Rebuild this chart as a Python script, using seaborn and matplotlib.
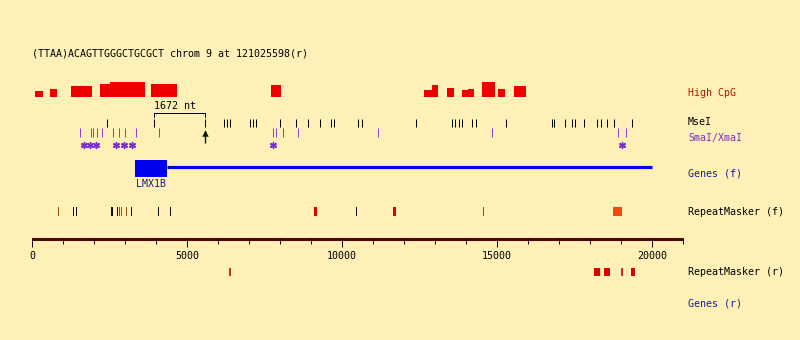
import matplotlib
matplotlib.use("Agg")
import matplotlib.pyplot as plt
import seaborn as sns
import numpy as np
import pandas as pd

# ---------------- data (nt coordinates) ----------------
title = "(TTAA)ACAGTTGGGCTGCGCT chrom 9 at 121025598(r)"

cpg_start = [100, 580, 1260, 2190, 2520, 3840, 7710, 12650, 12900, 13390, 13870, 14070, 14520, 15030, 15550]
cpg_end   = [355, 805, 1935, 2520, 3645, 4680, 8030, 12900, 13100, 13610, 14070, 14260, 14940, 15260, 15940]
cpg_score = [6, 8, 11, 13, 15, 13, 12, 7, 12, 9, 7, 8, 15, 8, 11]

msei_sites = [2420, 3920, 5592, 6190, 6290, 6390, 7030, 7130, 7230, 8000, 8520, 8900, 9290,
              9650, 9740, 10520, 10650, 12390, 13550, 13650, 13770, 13870, 14190, 14320,
              15290, 16770, 16840, 17190, 17420, 17520, 17800, 18230, 18360, 18550, 18770, 19360]
fragment_len = 1672

smai_sites = [1550, 1900, 1970, 2100, 2260, 2610, 2810, 3000, 3350, 4100, 7770, 7870,
              8100, 8580, 11160, 14840, 18900, 19160]
smai_stars = [1680, 1870, 2060, 2710, 2970, 3230, 7770, 19030]

gene_name = "LMX1B"
gene_exon = (3320, 4360)
gene_span = (4360, 20000)

rmf_start = [840, 1320, 1420, 2550, 2740, 2800, 2870, 3030, 3190, 4060, 4450, 9100, 10450, 11650, 14550, 18740]
rmf_end   = [870, 1350, 1450, 2610, 2770, 2830, 2900, 3060, 3220, 4090, 4480, 9190, 10480, 11740, 14580, 19030]
rmf_kind  = ["b", "k", "k", "k", "k", "b", "b", "b", "k", "k", "k", "r", "k", "r", "b", "o"]

rmr_start = [6360, 18130, 18450, 19000, 19320]
rmr_end   = [6420, 18320, 18640, 19060, 19450]
rmr_kind  = ["d", "r", "r", "d", "r"]

axis_max = 21000
axis_labels = [0, 5000, 10000, 15000, 20000]

track_labels = ["High CpG", "MseI", "SmaI/XmaI", "Genes (f)", "RepeatMasker (f)",
                "RepeatMasker (r)", "Genes (r)"]

# ---------------- styling ----------------
BG = "#fff0b8"
sns.set_theme(style="white", rc={"axes.facecolor": BG, "figure.facecolor": BG})
plt.rcParams["font.family"] = ["DejaVu Sans Mono"]
FS = 7.2

PX0, PXS = 32.0, 0.031          # px of 0 nt, px per nt
def nt(px):
    return (px - PX0) / PXS
LW1 = 0.72                       # one pixel in points

fig = plt.figure(figsize=(8, 3.4), dpi=100)
ax = fig.add_axes([0, 0, 1, 1])
ax.set_xlim(nt(0), nt(800))
ax.set_ylim(340, 0)
ax.axis("off")

# title
ax.text(nt(32), 53, title, fontsize=FS, va="center", ha="left", color="black")

# High CpG
cpg = pd.DataFrame({"start": cpg_start, "end": cpg_end, "score": cpg_score})
ax.bar(cpg["start"], -cpg["score"], width=cpg["end"] - cpg["start"], bottom=97,
       align="edge", color="#ee0000", linewidth=0)

# MseI
ax.vlines(msei_sites, 119, 127, color="black", linewidth=LW1)
# fragment bracket
a, b = msei_sites[1], msei_sites[2]
ax.plot([a, a, b, b], [117, 112.5, 112.5, 117], color="black", linewidth=LW1)
ax.text(a, 106, f"{fragment_len} nt", fontsize=FS, ha="left", va="center", color="black")
ax.vlines(b, 131, 143, color="#002200", linewidth=1.0)
ax.scatter([b], [132.5], marker="^", s=22, color="#002200", linewidths=0)

# SmaI/XmaI
ax.vlines(smai_sites, 128, 137, color="#8a3fd0", linewidth=LW1)
stars = pd.DataFrame({"x": smai_stars, "y": [144.5] * len(smai_stars)})
sns.scatterplot(data=stars, x="x", y="y", marker=(6, 2, 0), s=18, color="#7a2fd0",
                linewidth=1.1, edgecolor="#7a2fd0", ax=ax, legend=False)

# Genes (f)
ax.bar([gene_exon[0]], [17], width=gene_exon[1] - gene_exon[0], bottom=160,
       align="edge", color="#0000ee", linewidth=0)
ax.hlines(167, gene_span[0], gene_span[1], color="#0000ee", linewidth=2.3)
ax.text((gene_exon[0] + gene_exon[1]) / 2, 184, gene_name, fontsize=FS, ha="center",
        va="center", color="#1a1aa0")

kind_color = {"k": "#111111", "b": "#8a5a10", "r": "#e00000", "o": "#f04a10", "d": "#c03010"}

# RepeatMasker (f)
for s, e, k in zip(rmf_start, rmf_end, rmf_kind):
    ax.bar([s], [9], width=e - s, bottom=207, align="edge", color=kind_color[k], linewidth=0)

# RepeatMasker (r)
for s, e, k in zip(rmr_start, rmr_end, rmr_kind):
    ax.bar([s], [8], width=e - s, bottom=268, align="edge", color=kind_color[k], linewidth=0)

# coordinate axis
ax.hlines(238.5, 0, axis_max, color="#4a0a00", linewidth=2.2)
ticks = np.arange(0, axis_max + 1, 1000)
for t in ticks:
    ax.vlines(t, 238, 247 if t in axis_labels else 244, color="#220000", linewidth=LW1)
for t in axis_labels:
    ax.text(t, 256, str(t), fontsize=FS, ha="center", va="center", color="black")

# track labels
label_y = [93, 122, 138, 173, 212, 272, 304]
label_c = ["#b01a00", "black", "#8030c0", "#1a1aa0", "black", "black", "#1a1aa0"]
for txt, y, c in zip(track_labels, label_y, label_c):
    ax.text(nt(688), y, txt, fontsize=FS, ha="left", va="center", color=c)

fig.savefig("out.png", dpi=100, facecolor=BG)
